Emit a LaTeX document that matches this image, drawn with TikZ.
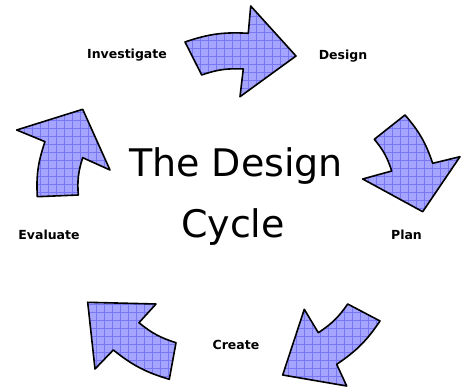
\documentclass[tikz,border=0pt]{standalone}
\usepackage{fontspec}
\setmainfont{DejaVu Sans}
\newfontfamily\labelfont{DejaVu Sans}
\begin{document}
\begin{tikzpicture}[x=1pt,y=-1pt,
  arrowfill/.style={fill={rgb,255:red,165;green,165;blue,255}},
  gridline/.style={draw={rgb,255:red,120;green,120;blue,245},line width=0.35pt},
  arrowline/.style={draw=black,line width=1.6pt,line join=round},
  steplabel/.style={font=\labelfont\bfseries\fontsize{12.5}{14}\selectfont,anchor=base,inner sep=0pt},
  titletext/.style={font=\fontsize{38}{44}\selectfont,anchor=base,inner sep=0pt}]
\useasboundingbox[fill=white] (0,0) rectangle (464,387);

\newcommand\cyarrow[8]{%
  \begin{scope}
    \clip #2 to[bend left=#1] #3 -- #4 -- #5 -- #6 -- #7 to[bend right=#1] #8 -- cycle;
    \fill[arrowfill] (0,0) rectangle (464,387);
    \foreach \gx in {0,8,...,464} {\draw[gridline] (\gx,0) -- (\gx,387);}
    \foreach \gy in {0,8,...,387} {\draw[gridline] (0,\gy) -- (464,\gy);}
  \end{scope}
  \draw[arrowline] #2 to[bend left=#1] #3 -- #4 -- #5 -- #6 -- #7 to[bend right=#1] #8 -- cycle;
}

% Investigate -> Design
\cyarrow{11}{(185,42)}{(248.3,33.3)}{(250.7,6)}{(296,56)}{(240,96.7)}{(243.3,69)}{(201.7,75)}
% Design -> Plan
\cyarrow{11}{(405,115)}{(432.7,163.3)}{(460,156.7)}{(422.7,211.7)}{(362.7,179)}{(391.7,171)}{(374.3,139.3)}
% Plan -> Create
\cyarrow{11}{(380,321)}{(336.7,364.3)}{(346.7,386)}{(282.7,375)}{(304.3,309.3)}{(318.3,332.7)}{(347.7,304)}
% Create -> Evaluate
\cyarrow{11}{(169.3,379.3)}{(113.3,350)}{(95,369)}{(87.7,302.3)}{(156,304)}{(139,322.7)}{(176,342.7)}
% Evaluate -> Investigate
\cyarrow{11}{(37.3,196.7)}{(45,141.7)}{(16.7,130)}{(82.7,109.3)}{(110,170)}{(82.7,157.7)}{(78.3,195)}

\node[titletext] (t1) at (236,177) {The Design};
\node[titletext] (t2) at (233,238) {Cycle};

\node[steplabel] (inv) at (127,59) {Investigate};
\node[steplabel] (des) at (343,60) {Design};
\node[steplabel] (pla) at (406.5,240) {Plan};
\node[steplabel] (cre) at (236,350) {Create};
\node[steplabel] (eva) at (49,240) {Evaluate};
\end{tikzpicture}
\end{document}
